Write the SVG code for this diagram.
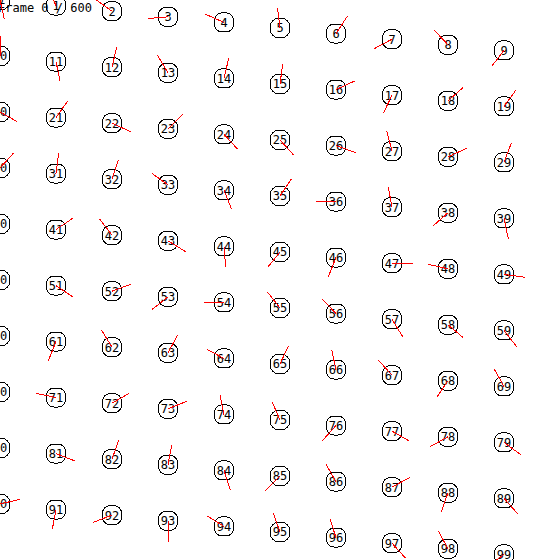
<svg xmlns="http://www.w3.org/2000/svg" width="560" height="560" viewBox="0 0 560 560">
<style>
.bg{fill:#fff}
.box{fill:none;stroke:#000;stroke-width:1}
.lbl{font-family:"DejaVu Sans Mono","Liberation Mono",monospace;font-size:12px;fill:#000;text-anchor:middle}
.frame{font-family:"DejaVu Sans Mono","Liberation Mono",monospace;font-size:12px;fill:#000}
.links line{stroke:#f00;stroke-width:1}
</style>
<defs>
<rect id="b" class="box" x="-9.5" y="-9.5" width="19" height="19" rx="7.5"/>
</defs>
<rect class="bg" x="0" y="0" width="560" height="560"/>
<text class="frame" x="-2" y="12">Frame 0 / 600</text>
<g id="nodes" shape-rendering="crispEdges">
<g id="n0" transform="translate(0,0)"><use href="#b"/><text class="lbl" y="4.3">0</text></g>
<g id="n1" transform="translate(56,5.6)"><use href="#b"/><text class="lbl" y="4.3">1</text></g>
<g id="n2" transform="translate(112,11.2)"><use href="#b"/><text class="lbl" y="4.3">2</text></g>
<g id="n3" transform="translate(168,16.8)"><use href="#b"/><text class="lbl" y="4.3">3</text></g>
<g id="n4" transform="translate(224,22.4)"><use href="#b"/><text class="lbl" y="4.3">4</text></g>
<g id="n5" transform="translate(280,28)"><use href="#b"/><text class="lbl" y="4.3">5</text></g>
<g id="n6" transform="translate(336,33.6)"><use href="#b"/><text class="lbl" y="4.3">6</text></g>
<g id="n7" transform="translate(392,39.2)"><use href="#b"/><text class="lbl" y="4.3">7</text></g>
<g id="n8" transform="translate(448,44.8)"><use href="#b"/><text class="lbl" y="4.3">8</text></g>
<g id="n9" transform="translate(504,50.4)"><use href="#b"/><text class="lbl" y="4.3">9</text></g>
<g id="n10" transform="translate(0,56)"><use href="#b"/><text class="lbl" y="4.3">10</text></g>
<g id="n11" transform="translate(56,61.6)"><use href="#b"/><text class="lbl" y="4.3">11</text></g>
<g id="n12" transform="translate(112,67.2)"><use href="#b"/><text class="lbl" y="4.3">12</text></g>
<g id="n13" transform="translate(168,72.8)"><use href="#b"/><text class="lbl" y="4.3">13</text></g>
<g id="n14" transform="translate(224,78.4)"><use href="#b"/><text class="lbl" y="4.3">14</text></g>
<g id="n15" transform="translate(280,84)"><use href="#b"/><text class="lbl" y="4.3">15</text></g>
<g id="n16" transform="translate(336,89.6)"><use href="#b"/><text class="lbl" y="4.3">16</text></g>
<g id="n17" transform="translate(392,95.2)"><use href="#b"/><text class="lbl" y="4.3">17</text></g>
<g id="n18" transform="translate(448,100.8)"><use href="#b"/><text class="lbl" y="4.3">18</text></g>
<g id="n19" transform="translate(504,106.4)"><use href="#b"/><text class="lbl" y="4.3">19</text></g>
<g id="n20" transform="translate(0,112)"><use href="#b"/><text class="lbl" y="4.3">20</text></g>
<g id="n21" transform="translate(56,117.6)"><use href="#b"/><text class="lbl" y="4.3">21</text></g>
<g id="n22" transform="translate(112,123.2)"><use href="#b"/><text class="lbl" y="4.3">22</text></g>
<g id="n23" transform="translate(168,128.8)"><use href="#b"/><text class="lbl" y="4.3">23</text></g>
<g id="n24" transform="translate(224,134.4)"><use href="#b"/><text class="lbl" y="4.3">24</text></g>
<g id="n25" transform="translate(280,140)"><use href="#b"/><text class="lbl" y="4.3">25</text></g>
<g id="n26" transform="translate(336,145.6)"><use href="#b"/><text class="lbl" y="4.3">26</text></g>
<g id="n27" transform="translate(392,151.2)"><use href="#b"/><text class="lbl" y="4.3">27</text></g>
<g id="n28" transform="translate(448,156.8)"><use href="#b"/><text class="lbl" y="4.3">28</text></g>
<g id="n29" transform="translate(504,162.4)"><use href="#b"/><text class="lbl" y="4.3">29</text></g>
<g id="n30" transform="translate(0,168)"><use href="#b"/><text class="lbl" y="4.3">30</text></g>
<g id="n31" transform="translate(56,173.6)"><use href="#b"/><text class="lbl" y="4.3">31</text></g>
<g id="n32" transform="translate(112,179.2)"><use href="#b"/><text class="lbl" y="4.3">32</text></g>
<g id="n33" transform="translate(168,184.8)"><use href="#b"/><text class="lbl" y="4.3">33</text></g>
<g id="n34" transform="translate(224,190.4)"><use href="#b"/><text class="lbl" y="4.3">34</text></g>
<g id="n35" transform="translate(280,196)"><use href="#b"/><text class="lbl" y="4.3">35</text></g>
<g id="n36" transform="translate(336,201.6)"><use href="#b"/><text class="lbl" y="4.3">36</text></g>
<g id="n37" transform="translate(392,207.2)"><use href="#b"/><text class="lbl" y="4.3">37</text></g>
<g id="n38" transform="translate(448,212.8)"><use href="#b"/><text class="lbl" y="4.3">38</text></g>
<g id="n39" transform="translate(504,218.4)"><use href="#b"/><text class="lbl" y="4.3">39</text></g>
<g id="n40" transform="translate(0,224)"><use href="#b"/><text class="lbl" y="4.3">40</text></g>
<g id="n41" transform="translate(56,229.6)"><use href="#b"/><text class="lbl" y="4.3">41</text></g>
<g id="n42" transform="translate(112,235.2)"><use href="#b"/><text class="lbl" y="4.3">42</text></g>
<g id="n43" transform="translate(168,240.8)"><use href="#b"/><text class="lbl" y="4.3">43</text></g>
<g id="n44" transform="translate(224,246.4)"><use href="#b"/><text class="lbl" y="4.3">44</text></g>
<g id="n45" transform="translate(280,252)"><use href="#b"/><text class="lbl" y="4.3">45</text></g>
<g id="n46" transform="translate(336,257.6)"><use href="#b"/><text class="lbl" y="4.3">46</text></g>
<g id="n47" transform="translate(392,263.2)"><use href="#b"/><text class="lbl" y="4.3">47</text></g>
<g id="n48" transform="translate(448,268.8)"><use href="#b"/><text class="lbl" y="4.3">48</text></g>
<g id="n49" transform="translate(504,274.4)"><use href="#b"/><text class="lbl" y="4.3">49</text></g>
<g id="n50" transform="translate(0,280)"><use href="#b"/><text class="lbl" y="4.3">50</text></g>
<g id="n51" transform="translate(56,285.6)"><use href="#b"/><text class="lbl" y="4.3">51</text></g>
<g id="n52" transform="translate(112,291.2)"><use href="#b"/><text class="lbl" y="4.3">52</text></g>
<g id="n53" transform="translate(168,296.8)"><use href="#b"/><text class="lbl" y="4.3">53</text></g>
<g id="n54" transform="translate(224,302.4)"><use href="#b"/><text class="lbl" y="4.3">54</text></g>
<g id="n55" transform="translate(280,308)"><use href="#b"/><text class="lbl" y="4.3">55</text></g>
<g id="n56" transform="translate(336,313.6)"><use href="#b"/><text class="lbl" y="4.3">56</text></g>
<g id="n57" transform="translate(392,319.2)"><use href="#b"/><text class="lbl" y="4.3">57</text></g>
<g id="n58" transform="translate(448,324.8)"><use href="#b"/><text class="lbl" y="4.3">58</text></g>
<g id="n59" transform="translate(504,330.4)"><use href="#b"/><text class="lbl" y="4.3">59</text></g>
<g id="n60" transform="translate(0,336)"><use href="#b"/><text class="lbl" y="4.3">60</text></g>
<g id="n61" transform="translate(56,341.6)"><use href="#b"/><text class="lbl" y="4.3">61</text></g>
<g id="n62" transform="translate(112,347.2)"><use href="#b"/><text class="lbl" y="4.3">62</text></g>
<g id="n63" transform="translate(168,352.8)"><use href="#b"/><text class="lbl" y="4.3">63</text></g>
<g id="n64" transform="translate(224,358.4)"><use href="#b"/><text class="lbl" y="4.3">64</text></g>
<g id="n65" transform="translate(280,364)"><use href="#b"/><text class="lbl" y="4.3">65</text></g>
<g id="n66" transform="translate(336,369.6)"><use href="#b"/><text class="lbl" y="4.3">66</text></g>
<g id="n67" transform="translate(392,375.2)"><use href="#b"/><text class="lbl" y="4.3">67</text></g>
<g id="n68" transform="translate(448,380.8)"><use href="#b"/><text class="lbl" y="4.3">68</text></g>
<g id="n69" transform="translate(504,386.4)"><use href="#b"/><text class="lbl" y="4.3">69</text></g>
<g id="n70" transform="translate(0,392)"><use href="#b"/><text class="lbl" y="4.3">70</text></g>
<g id="n71" transform="translate(56,397.6)"><use href="#b"/><text class="lbl" y="4.3">71</text></g>
<g id="n72" transform="translate(112,403.2)"><use href="#b"/><text class="lbl" y="4.3">72</text></g>
<g id="n73" transform="translate(168,408.8)"><use href="#b"/><text class="lbl" y="4.3">73</text></g>
<g id="n74" transform="translate(224,414.4)"><use href="#b"/><text class="lbl" y="4.3">74</text></g>
<g id="n75" transform="translate(280,420)"><use href="#b"/><text class="lbl" y="4.3">75</text></g>
<g id="n76" transform="translate(336,425.6)"><use href="#b"/><text class="lbl" y="4.3">76</text></g>
<g id="n77" transform="translate(392,431.2)"><use href="#b"/><text class="lbl" y="4.3">77</text></g>
<g id="n78" transform="translate(448,436.8)"><use href="#b"/><text class="lbl" y="4.3">78</text></g>
<g id="n79" transform="translate(504,442.4)"><use href="#b"/><text class="lbl" y="4.3">79</text></g>
<g id="n80" transform="translate(0,448)"><use href="#b"/><text class="lbl" y="4.3">80</text></g>
<g id="n81" transform="translate(56,453.6)"><use href="#b"/><text class="lbl" y="4.3">81</text></g>
<g id="n82" transform="translate(112,459.2)"><use href="#b"/><text class="lbl" y="4.3">82</text></g>
<g id="n83" transform="translate(168,464.8)"><use href="#b"/><text class="lbl" y="4.3">83</text></g>
<g id="n84" transform="translate(224,470.4)"><use href="#b"/><text class="lbl" y="4.3">84</text></g>
<g id="n85" transform="translate(280,476)"><use href="#b"/><text class="lbl" y="4.3">85</text></g>
<g id="n86" transform="translate(336,481.6)"><use href="#b"/><text class="lbl" y="4.3">86</text></g>
<g id="n87" transform="translate(392,487.2)"><use href="#b"/><text class="lbl" y="4.3">87</text></g>
<g id="n88" transform="translate(448,492.8)"><use href="#b"/><text class="lbl" y="4.3">88</text></g>
<g id="n89" transform="translate(504,498.4)"><use href="#b"/><text class="lbl" y="4.3">89</text></g>
<g id="n90" transform="translate(0,504)"><use href="#b"/><text class="lbl" y="4.3">90</text></g>
<g id="n91" transform="translate(56,509.6)"><use href="#b"/><text class="lbl" y="4.3">91</text></g>
<g id="n92" transform="translate(112,515.2)"><use href="#b"/><text class="lbl" y="4.3">92</text></g>
<g id="n93" transform="translate(168,520.8)"><use href="#b"/><text class="lbl" y="4.3">93</text></g>
<g id="n94" transform="translate(224,526.4)"><use href="#b"/><text class="lbl" y="4.3">94</text></g>
<g id="n95" transform="translate(280,532)"><use href="#b"/><text class="lbl" y="4.3">95</text></g>
<g id="n96" transform="translate(336,537.6)"><use href="#b"/><text class="lbl" y="4.3">96</text></g>
<g id="n97" transform="translate(392,543.2)"><use href="#b"/><text class="lbl" y="4.3">97</text></g>
<g id="n98" transform="translate(448,548.8)"><use href="#b"/><text class="lbl" y="4.3">98</text></g>
<g id="n99" transform="translate(504,554.4)"><use href="#b"/><text class="lbl" y="4.3">99</text></g>
</g>
<g id="connectors" class="links" shape-rendering="crispEdges">
<line x1="0" y1="0" x2="4.3" y2="19"/>
<line x1="56" y1="5.6" x2="52" y2="-3"/>
<line x1="112" y1="11.2" x2="95" y2="-1"/>
<line x1="168" y1="16.8" x2="148" y2="18.5"/>
<line x1="224" y1="22.4" x2="205" y2="14"/>
<line x1="280" y1="28" x2="277.5" y2="8"/>
<line x1="336" y1="33.6" x2="347.5" y2="16"/>
<line x1="392" y1="39.2" x2="374.5" y2="48.5"/>
<line x1="448" y1="44.8" x2="434.5" y2="30.5"/>
<line x1="504" y1="50.4" x2="491.5" y2="66.5"/>
<line x1="0" y1="56" x2="1" y2="36"/>
<line x1="56" y1="61.6" x2="60" y2="81"/>
<line x1="112" y1="67.2" x2="116.7" y2="47"/>
<line x1="168" y1="72.8" x2="157.3" y2="55"/>
<line x1="224" y1="78.4" x2="228.7" y2="58.3"/>
<line x1="280" y1="84" x2="282.7" y2="64"/>
<line x1="336" y1="89.6" x2="354.7" y2="81"/>
<line x1="392" y1="95.2" x2="383.3" y2="113.3"/>
<line x1="448" y1="100.8" x2="463.3" y2="87.3"/>
<line x1="504" y1="106.4" x2="516" y2="90"/>
<line x1="0" y1="112" x2="17.3" y2="121.7"/>
<line x1="56" y1="117.6" x2="67.7" y2="101"/>
<line x1="112" y1="123.2" x2="130.7" y2="131.7"/>
<line x1="168" y1="128.8" x2="182.7" y2="114.3"/>
<line x1="224" y1="134.4" x2="237.7" y2="149.3"/>
<line x1="280" y1="140" x2="293.3" y2="154.7"/>
<line x1="336" y1="145.6" x2="356" y2="152.7"/>
<line x1="392" y1="151.2" x2="386.7" y2="130.7"/>
<line x1="448" y1="156.8" x2="466.7" y2="148.3"/>
<line x1="504" y1="162.4" x2="511.3" y2="143"/>
<line x1="0" y1="168" x2="13.3" y2="153.3"/>
<line x1="56" y1="173.6" x2="58.7" y2="153.3"/>
<line x1="112" y1="179.2" x2="118.3" y2="160.3"/>
<line x1="168" y1="184.8" x2="151.7" y2="173.3"/>
<line x1="224" y1="190.4" x2="231.7" y2="209.3"/>
<line x1="280" y1="196" x2="291.3" y2="179"/>
<line x1="336" y1="201.6" x2="316" y2="201.6"/>
<line x1="392" y1="207.2" x2="388.3" y2="187.3"/>
<line x1="448" y1="212.8" x2="433.3" y2="225.7"/>
<line x1="504" y1="218.4" x2="508.3" y2="238.7"/>
<line x1="56" y1="229.6" x2="72.7" y2="218.3"/>
<line x1="112" y1="235.2" x2="99.7" y2="219"/>
<line x1="168" y1="240.8" x2="185.7" y2="251.7"/>
<line x1="224" y1="246.4" x2="225.7" y2="266.7"/>
<line x1="280" y1="252" x2="267.7" y2="267.3"/>
<line x1="336" y1="257.6" x2="328.3" y2="276.7"/>
<line x1="392" y1="263.2" x2="412.7" y2="263.2"/>
<line x1="448" y1="268.8" x2="428.3" y2="264.3"/>
<line x1="504" y1="274.4" x2="525" y2="277.3"/>
<line x1="56" y1="285.6" x2="72.7" y2="296.7"/>
<line x1="112" y1="291.2" x2="130.7" y2="284.3"/>
<line x1="168" y1="296.8" x2="152.3" y2="309.3"/>
<line x1="224" y1="302.4" x2="204" y2="302.4"/>
<line x1="280" y1="308" x2="267.7" y2="292.3"/>
<line x1="336" y1="313.6" x2="322.3" y2="299"/>
<line x1="392" y1="319.2" x2="402.7" y2="336.7"/>
<line x1="448" y1="324.8" x2="463.3" y2="337.7"/>
<line x1="504" y1="330.4" x2="516.7" y2="346.7"/>
<line x1="56" y1="341.6" x2="48.3" y2="360.7"/>
<line x1="112" y1="347.2" x2="101.7" y2="330.3"/>
<line x1="168" y1="352.8" x2="177.7" y2="335"/>
<line x1="224" y1="358.4" x2="206.7" y2="349.3"/>
<line x1="280" y1="364" x2="288.3" y2="346"/>
<line x1="336" y1="369.6" x2="331.7" y2="350"/>
<line x1="392" y1="375.2" x2="378.3" y2="360"/>
<line x1="448" y1="380.8" x2="436.7" y2="397.3"/>
<line x1="504" y1="386.4" x2="494.3" y2="369.3"/>
<line x1="56" y1="397.6" x2="36" y2="393.3"/>
<line x1="112" y1="403.2" x2="129.3" y2="393.3"/>
<line x1="168" y1="408.8" x2="186.7" y2="401.3"/>
<line x1="224" y1="414.4" x2="220" y2="395"/>
<line x1="280" y1="420" x2="272.3" y2="402.3"/>
<line x1="336" y1="425.6" x2="322.3" y2="440.7"/>
<line x1="392" y1="431.2" x2="409.3" y2="441"/>
<line x1="448" y1="436.8" x2="430" y2="446.7"/>
<line x1="504" y1="442.4" x2="520.7" y2="454.7"/>
<line x1="56" y1="453.6" x2="75" y2="461"/>
<line x1="112" y1="459.2" x2="118.7" y2="440.3"/>
<line x1="168" y1="464.8" x2="171.7" y2="445"/>
<line x1="224" y1="470.4" x2="230.3" y2="490"/>
<line x1="280" y1="476" x2="265.3" y2="490.7"/>
<line x1="336" y1="481.6" x2="326" y2="464.3"/>
<line x1="392" y1="487.2" x2="410" y2="477.3"/>
<line x1="448" y1="492.8" x2="441.3" y2="511.7"/>
<line x1="504" y1="498.4" x2="517.7" y2="513.7"/>
<line x1="0" y1="504" x2="20" y2="499.3"/>
<line x1="56" y1="509.6" x2="52.3" y2="529.3"/>
<line x1="112" y1="515.2" x2="93.3" y2="522.3"/>
<line x1="168" y1="520.8" x2="168.5" y2="541.7"/>
<line x1="224" y1="526.4" x2="207.3" y2="516"/>
<line x1="280" y1="532" x2="273.3" y2="513.3"/>
<line x1="336" y1="537.6" x2="330" y2="519"/>
<line x1="392" y1="543.2" x2="405.7" y2="558.3"/>
<line x1="448" y1="548.8" x2="438.3" y2="531"/>
<line x1="504" y1="554.4" x2="494" y2="562"/>
</g>
</svg>
